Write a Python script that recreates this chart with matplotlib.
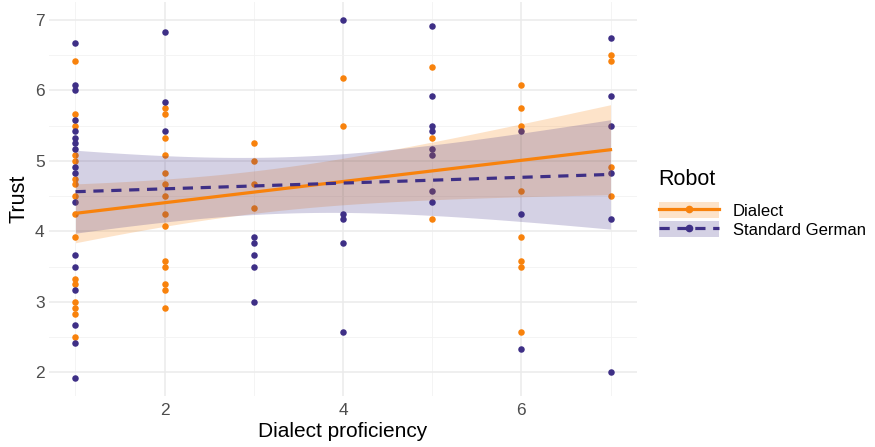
import numpy as np
import matplotlib
matplotlib.use("Agg")
import matplotlib.pyplot as plt
from matplotlib.patches import Patch
from matplotlib.lines import Line2D

plt.rcParams['font.family'] = ['Liberation Sans', 'DejaVu Sans']

# Dialect robot: (proficiency, trust)
dialect_x = [1]*16 + [2]*14 + [3]*4 + [4]*2 + [5]*3 + [6]*8 + [7]*4
dialect_y = [6.42, 5.67, 5.5, 5.08, 5.0, 4.75, 4.67, 4.5, 4.25, 3.92, 3.33, 3.25, 3.0, 2.92, 2.83, 2.5,
             5.75, 5.67, 5.33, 5.08, 4.83, 4.67, 4.5, 4.25, 4.08, 3.58, 3.5, 3.25, 3.17, 2.92,
             5.25, 5.0, 4.67, 4.33,
             6.17, 5.5,
             6.33, 5.33, 4.17,
             6.08, 5.75, 5.5, 4.58, 3.92, 3.58, 3.5, 2.58,
             6.5, 6.42, 4.92, 4.5]

# Standard German robot
standard_x = [1]*17 + [2]*3 + [3]*5 + [4]*5 + [5]*8 + [6]*3 + [7]*6
standard_y = [6.67, 6.08, 6.0, 5.58, 5.42, 5.33, 5.25, 5.17, 4.92, 4.83, 4.42, 3.67, 3.5, 3.17, 2.67, 2.42, 1.92,
              6.83, 5.83, 5.42,
              3.92, 3.83, 3.67, 3.5, 3.0,
              7.0, 4.25, 4.17, 3.83, 2.58,
              6.92, 5.92, 5.5, 5.42, 5.17, 5.08, 4.58, 4.42,
              5.42, 4.25, 2.33,
              6.75, 5.92, 5.5, 4.83, 4.17, 2.0]

groups = ['Dialect', 'Standard German']
colors = {'Dialect': '#F8820C', 'Standard German': '#3E2F86'}
styles = {'Dialect': '-', 'Standard German': (0, (3.2, 2.4))}


def lm_band(x, y, grid):
    x = np.asarray(x, float)
    y = np.asarray(y, float)
    n = len(x)
    b, a = np.polyfit(x, y, 1)
    resid = y - (a + b * x)
    s = np.sqrt(np.sum(resid ** 2) / (n - 2))
    sxx = np.sum((x - x.mean()) ** 2)
    se = s * np.sqrt(1 / n + (grid - x.mean()) ** 2 / sxx)
    fit = a + b * grid
    return fit, fit - 2.01 * se, fit + 2.01 * se


fig = plt.figure(figsize=(8.75, 4.47), dpi=100)
ax = fig.add_axes([0.0557, 0.114, 0.6726, 0.8815])

data = {'Dialect': (dialect_x, dialect_y), 'Standard German': (standard_x, standard_y)}
for g in groups:
    xs, ys = data[g]
    ax.scatter(xs, ys, s=22, color=colors[g], linewidths=0, zorder=2)

grid = np.linspace(1, 7, 80)
for g in groups:
    xs, ys = data[g]
    fit, lo, hi = lm_band(xs, ys, grid)
    ax.fill_between(grid, lo, hi, color=colors[g], alpha=0.22, linewidth=0, zorder=3)
    ax.plot(grid, fit, color=colors[g], lw=2.3, ls=styles[g], zorder=4)

ax.set_xlim(0.7, 7.3)
ax.set_ylim(1.666, 7.254)
ax.set_xticks([2, 4, 6])
ax.set_xticks([1, 3, 5, 7], minor=True)
ax.set_yticks([2, 3, 4, 5, 6, 7])
ax.set_yticks([2.5, 3.5, 4.5, 5.5, 6.5], minor=True)
ax.grid(which='major', color='#EBEBEB', lw=1.1, zorder=0)
ax.grid(which='minor', color='#F2F2F2', lw=0.6, zorder=0)
ax.set_axisbelow(True)
for sp in ax.spines.values():
    sp.set_visible(False)
ax.tick_params(which='both', length=0, labelsize=12.5, labelcolor='#4D4D4D')
ax.tick_params(axis='x', pad=5)
ax.tick_params(axis='y', pad=3)
ax.set_xlabel('Dialect proficiency', fontsize=15, labelpad=3)
ax.set_ylabel('Trust', fontsize=15.5, labelpad=4)

handles = []
for g in groups:
    patch = Patch(facecolor=colors[g], alpha=0.22, edgecolor='none')
    line = Line2D([], [], color=colors[g], lw=2.3, ls=styles[g], marker='o', markersize=4.5)
    handles.append((patch, line))
leg = fig.legend(handles, groups, title='Robot', loc='center left', bbox_to_anchor=(0.745, 0.545),
                 frameon=False, fontsize=12, title_fontsize=15.5, handlelength=3.6,
                 handleheight=1.1, labelspacing=0.15, handletextpad=0.85, borderaxespad=0)
leg._legend_box.align = 'left'
leg._legend_box.sep = 9

fig.savefig('out.png', dpi=100)
